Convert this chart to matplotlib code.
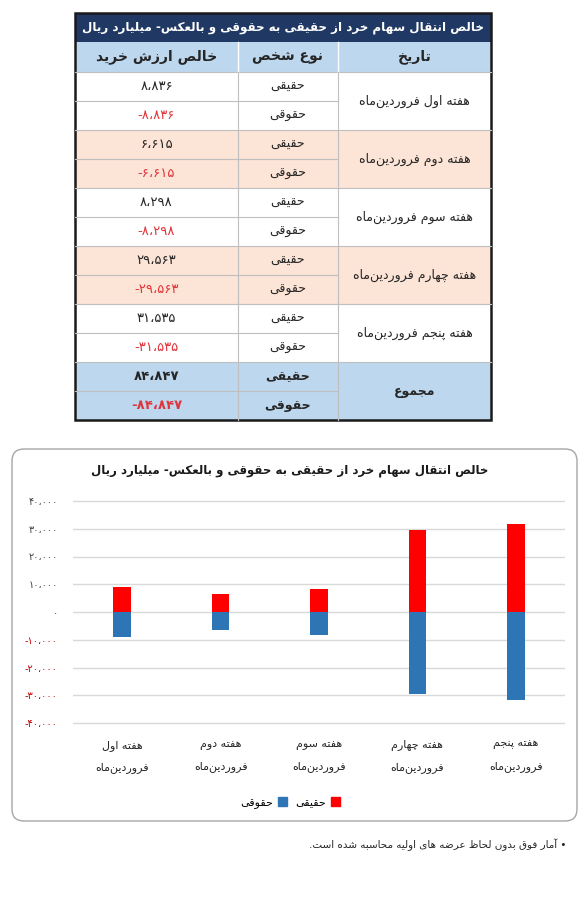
import matplotlib
matplotlib.use('Agg')
import matplotlib.pyplot as plt
from matplotlib.patches import Rectangle, FancyBboxPatch, Patch

# داده ها
weeks = ['هفته اول فروردین‌ماه', 'هفته دوم فروردین‌ماه', 'هفته سوم فروردین‌ماه',
         'هفته چهارم فروردین‌ماه', 'هفته پنجم فروردین‌ماه']
week_ticks = ['هفته اول\nفروردین‌ماه', 'هفته دوم\nفروردین‌ماه', 'هفته سوم\nفروردین‌ماه',
              'هفته چهارم\nفروردین‌ماه', 'هفته پنجم\nفروردین‌ماه']
haghighi = [8836, 6615, 8298, 29563, 31535]
hoghoghi = [-8836, -6615, -8298, -29563, -31535]
total_haghighi = 84847
total_hoghoghi = -84847
yticks = [-40000, -30000, -20000, -10000, 0, 10000, 20000, 30000, 40000]

title = 'خالص انتقال سهام خرد از حقیقی به حقوقی و بالعکس- میلیارد ریال'
col_headers = ['خالص ارزش خرید', 'نوع شخص', 'تاریخ']
person_types = ['حقیقی', 'حقوقی']
total_label = 'مجموع'
footnote = '• آمار فوق بدون لحاظ عرضه های اولیه محاسبه شده است.'

# شکل دهی حروف فارسی (matplotlib خودش این کار را نمی کند)
_two = {'آ': 0xFE81, 'ا': 0xFE8D, 'د': 0xFEA9, 'ذ': 0xFEAB, 'ر': 0xFEAD, 'ز': 0xFEAF,
        'و': 0xFEED, 'ژ': 0xFB8A, 'ة': 0xFE93}
_four = {'ب': 0xFE8F, 'ت': 0xFE95, 'ث': 0xFE99, 'ج': 0xFE9D, 'ح': 0xFEA1, 'خ': 0xFEA5,
         'س': 0xFEB1, 'ش': 0xFEB5, 'ص': 0xFEB9, 'ض': 0xFEBD, 'ط': 0xFEC1, 'ظ': 0xFEC5,
         'ع': 0xFEC9, 'غ': 0xFECD, 'ف': 0xFED1, 'ق': 0xFED5, 'ل': 0xFEDD, 'م': 0xFEE1,
         'ن': 0xFEE5, 'ه': 0xFEE9, 'ي': 0xFEF1, 'ی': 0xFBFC, 'پ': 0xFB56, 'چ': 0xFB7A,
         'ک': 0xFB8E, 'گ': 0xFB92, 'ئ': 0xFE89}


def fa_line(s):
    out = []
    i = 0
    n = len(s)
    while i < n:
        c = s[i]
        prev = s[i - 1] if i > 0 else ''
        nxt = s[i + 1] if i < n - 1 else ''
        if c == '\u200c':
            i += 1
            continue
        if c == 'ل' and nxt in ('ا', 'آ'):
            base = 0xFEFB if nxt == 'ا' else 0xFEF5
            out.append(chr(base + (1 if prev in _four else 0)))
            i += 2
            continue
        if c in _two:
            out.append(chr(_two[c] + (1 if prev in _four else 0)))
        elif c in _four:
            jp = prev in _four
            jn = nxt in _four or nxt in _two
            k = 3 if (jp and jn) else 2 if jn else 1 if jp else 0
            out.append(chr(_four[c] + k))
        else:
            out.append(c)
        i += 1
    return ''.join(reversed(out))


def fa(s):
    return '\n'.join(fa_line(l) for l in s.split('\n'))


FA_DIGITS = str.maketrans('0123456789,', '۰۱۲۳۴۵۶۷۸۹،')


def fa_num(v):
    s = f'{abs(v):,}'.translate(FA_DIGITS)
    return ('-' if v < 0 else '') + s


plt.rcParams['font.family'] = ['DejaVu Sans']

fig = plt.figure(figsize=(5.8, 9), dpi=100)
fig.patch.set_facecolor('white')

bg = fig.add_axes([0, 0, 1, 1])
bg.set_xlim(0, 580)
bg.set_ylim(900, 0)
bg.axis('off')

# ---- جدول ----
x0, x1, x2, x3 = 75, 238, 338, 491
top, head_top, body_top, rh = 13, 42, 72, 29
navy = '#1F3864'
light_blue = '#BDD7EE'
peach = '#FCE4D6'
grid_gray = '#BFBFBF'
neg_red = '#E0363B'
txt = '#262626'

bg.add_patch(Rectangle((x0, top), x3 - x0, head_top - top, color=navy, lw=0))
bg.text((x0 + x3) / 2, (top + head_top) / 2, fa(title), color='white', fontsize=8.6,
        fontweight='bold', ha='center', va='center')
bg.add_patch(Rectangle((x0, head_top), x3 - x0, body_top - head_top, color=light_blue, lw=0))
col_cx = [(x0 + x1) / 2, (x1 + x2) / 2, (x2 + x3) / 2]
for cx, h in zip(col_cx, col_headers):
    bg.text(cx, (head_top + body_top) / 2, fa(h), color=txt, fontsize=10, fontweight='bold',
            ha='center', va='center')

row_bgs = ['white', peach, 'white', peach, 'white', light_blue]
labels = weeks + [total_label]
vals_pos = haghighi + [total_haghighi]
vals_neg = hoghoghi + [total_hoghoghi]
for i in range(len(labels)):
    y = body_top + 2 * rh * i
    bold = 'bold' if i == len(labels) - 1 else 'normal'
    bg.add_patch(Rectangle((x0, y), x3 - x0, 2 * rh, color=row_bgs[i], lw=0))
    bg.plot([x0, x2], [y + rh, y + rh], color=grid_gray, lw=0.8)
    bg.plot([x0, x3], [y, y], color=grid_gray, lw=0.8)
    bg.text(col_cx[2], y + rh, fa(labels[i]), color=txt, fontsize=9, fontweight=bold,
            ha='center', va='center')
    for j, v in enumerate([vals_pos[i], vals_neg[i]]):
        yc = y + rh * j + rh / 2
        bg.text(col_cx[0], yc, fa_num(v), color=neg_red if v < 0 else txt, fontsize=9.5,
                fontweight=bold, ha='center', va='center')
        bg.text(col_cx[1], yc, fa(person_types[j]), color=txt, fontsize=9, fontweight=bold,
                ha='center', va='center')

bottom = body_top + 2 * rh * len(labels)
for xv in (x1, x2):
    bg.plot([xv, xv], [head_top, body_top], color='white', lw=1)
    bg.plot([xv, xv], [body_top, bottom], color=grid_gray, lw=0.8)
bg.add_patch(Rectangle((x0, top), x3 - x0, bottom - top, fill=False, ec='#1A1A1A', lw=1.8))

# ---- کادر نمودار ----
bg.add_patch(FancyBboxPatch((12, 449), 565, 372, boxstyle='round,pad=0,rounding_size=12',
                            fill=False, ec='#A6A6A6', lw=1))
fig.text(290 / 580, 1 - 470 / 900, fa(title), fontsize=8.5, fontweight='bold', color='#1A1A1A',
         ha='center', va='center')

ax = fig.add_axes([73 / 580, 1 - 728.55 / 900, 492 / 580, 233.1 / 900])
ax.patch.set_alpha(0)
xs = range(len(week_ticks))
ax.bar(xs, haghighi, width=0.18, color='#FF0000', zorder=3)
ax.bar(xs, hoghoghi, width=0.18, color='#2E75B6', zorder=3)
ax.set_xlim(-0.5, len(week_ticks) - 0.5)
ax.set_ylim(-42000, 42000)
ax.set_yticks(yticks)
ax.set_yticklabels([fa_num(v) for v in yticks])
for lab, v in zip(ax.get_yticklabels(), yticks):
    lab.set_color('#C00000' if v < 0 else '#404040')
ax.set_xticks(list(xs))
ax.set_xticklabels([fa(w) for w in week_ticks])
for lab in ax.get_xticklabels():
    lab.set_linespacing(2.4)
ax.tick_params(axis='y', length=0, pad=11, labelsize=7)
ax.tick_params(axis='x', length=0, pad=8, labelsize=8, labelcolor='#262626')
ax.grid(axis='y', color='#D9D9D9', lw=1)
ax.set_axisbelow(True)
for s in ax.spines.values():
    s.set_visible(False)

handles = [Patch(color='#2E75B6', label=fa('حقوقی')), Patch(color='#FF0000', label=fa('حقیقی'))]
fig.legend(handles=handles, loc='center', bbox_to_anchor=(290 / 580, 1 - 803 / 900), ncol=2,
           frameon=False, markerfirst=False, fontsize=8, handlelength=0.8, handleheight=0.8,
           handletextpad=0.4, columnspacing=0.8)

fig.text(566 / 580, 1 - 845 / 900, fa(footnote), fontsize=7.5, color='#262626', ha='right',
         va='center')

fig.savefig('out.png', dpi=100)
